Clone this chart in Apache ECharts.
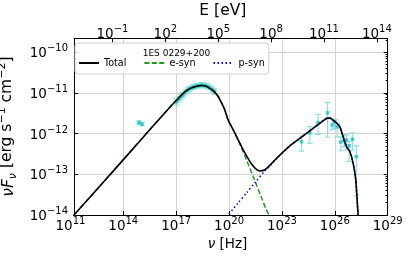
<!DOCTYPE html>
<html><head><meta charset="utf-8">
<script src="https://cdn.jsdelivr.net/npm/echarts@6/dist/echarts.min.js"></script>
<style>html,body{margin:0;padding:0;background:#fff}#c{width:411px;height:257px}</style>
</head><body><div id="c"></div>
<script>
// ---- data (log10 values) ----
const xTickExps = [11, 14, 17, 20, 23, 26, 29];      // nu [Hz] exponents
const eTickExps = [-1, 2, 5, 8, 11, 14];             // E [eV] exponents
const yTickExps = [-14, -13, -12, -11, -10];         // nuFnu exponents
const LOG_H_EV = -14.3835;                           // log10(h [eV s])

const totalLogNu   = [11.0, 11.2, 13.0, 15.0, 16.5, 16.93, 17.5, 17.8, 18.06, 18.44, 18.7, 18.91, 19.15, 19.38, 19.6, 19.76, 19.95, 20.25, 20.52, 20.8, 21.09, 21.3, 21.5, 21.75, 22.03, 22.31, 22.6, 22.88, 23.45, 24.01, 24.5, 24.77, 25.2, 25.59, 25.75, 25.9, 26.1, 26.28, 26.45, 26.66, 26.85, 27.04, 27.19, 27.23, 27.32, 27.36];
const totalLogFlux = [-14.1, -14.0, -13.13, -12.15, -11.42, -11.22, -10.97, -10.89, -10.85, -10.82, -10.84, -10.89, -10.97, -11.09, -11.27, -11.42, -11.67, -11.92, -12.16, -12.40, -12.62, -12.76, -12.86, -12.92, -12.89, -12.78, -12.65, -12.53, -12.30, -12.12, -11.96, -11.87, -11.73, -11.62, -11.62, -11.67, -11.74, -11.83, -12.05, -12.32, -12.44, -12.73, -13.14, -13.39, -14.0, -14.3];

const esynLogNu   = [11.0, 11.2, 13.0, 15.0, 16.5, 16.93, 17.5, 17.8, 18.06, 18.44, 18.7, 18.91, 19.15, 19.38, 19.6, 19.76, 19.95, 20.25, 20.52, 21.0, 21.4, 21.8, 22.1, 22.27, 22.35];
const esynLogFlux = [-14.1, -14.0, -13.13, -12.15, -11.42, -11.22, -10.97, -10.89, -10.85, -10.82, -10.84, -10.89, -10.97, -11.09, -11.27, -11.42, -11.67, -11.92, -12.16, -12.66, -13.09, -13.53, -13.86, -14.0, -14.1];

const psynLogNu   = [19.85, 20.5, 21.0, 21.5, 22.0, 22.31, 22.6, 22.88, 23.45, 24.01, 24.5, 24.77, 25.2, 25.59, 25.75, 25.9, 26.1, 26.28, 26.45, 26.66, 26.85, 27.04, 27.19, 27.23, 27.32, 27.36];
const psynLogFlux = [-14.05, -13.71, -13.45, -13.19, -12.93, -12.80, -12.66, -12.53, -12.30, -12.12, -11.96, -11.87, -11.73, -11.62, -11.62, -11.67, -11.74, -11.83, -12.05, -12.32, -12.44, -12.73, -13.14, -13.39, -14.0, -14.3];

const obsLogNu   = [14.89, 15.06, 17.0, 17.12, 17.25, 17.38, 17.5, 17.63, 17.76, 17.9, 18.03, 18.17, 18.3, 18.45, 18.6, 18.75, 18.9, 19.05, 19.18, 24.11, 24.58, 25.05, 25.59, 25.85, 26.0, 26.13, 26.34, 26.53, 26.66, 26.81, 27.0, 27.22];
const obsLogFlux = [-11.73, -11.77, -11.22, -11.16, -11.10, -11.05, -10.99, -10.94, -10.90, -10.87, -10.85, -10.83, -10.82, -10.81, -10.82, -10.84, -10.87, -10.92, -10.97, -12.20, -11.98, -11.73, -11.49, -11.79, -11.71, -11.83, -12.21, -12.17, -12.16, -12.30, -12.14, -12.57];
const obsLogLo   = [-11.77, -11.81, -11.30, -11.23, -11.17, -11.11, -11.05, -11.00, -10.96, -10.93, -10.91, -10.89, -10.88, -10.87, -10.88, -10.90, -10.93, -10.98, -11.04, -12.43, -12.24, -12.02, -12.09, -11.91, -11.87, -12.08, -12.42, -12.32, -12.40, -12.69, -12.40, -13.53];
const obsLogHi   = [-11.69, -11.73, -11.14, -11.09, -11.03, -10.99, -10.93, -10.88, -10.84, -10.81, -10.79, -10.77, -10.76, -10.75, -10.76, -10.78, -10.81, -10.86, -10.90, -12.06, -11.83, -11.53, -11.24, -11.65, -11.65, -11.75, -12.08, -12.03, -12.03, -12.20, -11.98, -12.30];

const legendTitle = '1ES 0229+200';
const seriesNames = ['Total', 'e-syn', 'p-syn'];

// ---- chart ----
const FONT = 'DejaVu Sans';
const Y_MIN = -14, Y_MAX = -9.66, X_MIN = 11.2, X_MAX = 29;
const zip = (a, b) => a.map((v, i) => [v, b[i]]);
const expStr = v => String(Math.round(v)).replace('-', '\u2212');
const powLabel = v => '{b|10}{s|' + expStr(v) + '}';
const richPow = {
  b: { fontSize: 13.5, fontFamily: FONT, color: '#000', lineHeight: 17, verticalAlign: 'bottom' },
  s: { fontSize: 10, fontFamily: FONT, color: '#000', lineHeight: 17, verticalAlign: 'top' }
};
const yMinor = [];
for (let d = -14; d <= -10; d++) for (let k = 2; k <= 9; k++) { const v = d + Math.log10(k); if (v < Y_MAX) yMinor.push(v); }
const spine = { show: true, onZero: false, lineStyle: { color: '#000', width: 1 } };
const noLine = { show: false, onZero: false };
const gridCol = '#d3d3d3';
const xGridColors = xTickExps.map((v, i) => (i === 0 || i === xTickExps.length - 1) ? 'rgba(0,0,0,0)' : gridCol);

const chart = echarts.init(document.getElementById('c'), null, { renderer: 'canvas' });
chart.setOption({
  animation: false,
  backgroundColor: '#fff',
  grid: [
    { left: 74, right: 23.3, top: 38.3, bottom: 42, containLabel: false, outerBoundsMode: 'none' },
    { left: 70.4, right: 23.3, top: 38.3, bottom: 42, containLabel: false, outerBoundsMode: 'none' }
  ],
  title: {
    text: legendTitle, left: 171.5, top: 44, textAlign: 'center', z: 10,
    textStyle: { fontFamily: FONT, fontSize: 9, fontWeight: 'normal', color: '#000' }
  },
  legend: {
    data: seriesNames, left: 75, top: 43, z: 5,
    padding: [15, 4, 6, 3], itemWidth: 20, itemHeight: 10, itemGap: 17,
    itemStyle: { opacity: 0 },
    backgroundColor: 'rgba(255,255,255,0.85)', borderColor: '#cccccc', borderWidth: 1, borderRadius: 3,
    textStyle: { fontFamily: FONT, fontSize: 9.6, color: '#000' }
  },
  xAxis: [
    { type: 'value', gridIndex: 0, position: 'bottom', min: X_MIN, max: X_MAX,
      axisLine: spine,
      axisTick: { show: true, inside: true, length: 4, customValues: [14, 17, 20, 23, 26], lineStyle: { color: '#000' } },
      axisLabel: { show: false },
      splitLine: { show: false } },
    { type: 'value', gridIndex: 0, position: 'top', min: X_MIN + LOG_H_EV, max: X_MAX + LOG_H_EV,
      axisLine: spine,
      axisTick: { show: true, inside: true, length: 4, customValues: eTickExps, lineStyle: { color: '#000' } },
      axisLabel: { show: true, customValues: eTickExps, margin: -3, formatter: powLabel, rich: richPow },
      splitLine: { show: false },
      name: 'E [eV]', nameLocation: 'middle', nameGap: -3,
      nameTextStyle: { fontFamily: FONT, fontSize: 15.5, color: '#000', padding: [0, 16, 0, 0] } },
    { type: 'value', gridIndex: 1, position: 'bottom', min: 11, max: 29, interval: 3,
      axisLine: noLine, axisTick: { show: false },
      splitLine: { show: true, lineStyle: { color: xGridColors, width: 1 } },
      axisLabel: { show: true, margin: 1, formatter: powLabel, rich: richPow },
      name: '{i|ν} [Hz]', nameLocation: 'middle', nameGap: 10,
      nameTextStyle: { fontFamily: FONT, fontSize: 13.5, color: '#000', padding: [0, 3, 0, 0],
        rich: { i: { fontFamily: FONT, fontSize: 13.5, fontStyle: 'italic', color: '#000' } } } }
  ],
  yAxis: [
    { type: 'value', gridIndex: 0, min: Y_MIN, max: Y_MAX, interval: 1,
      axisLine: spine,
      axisTick: { show: true, inside: true, length: 4, lineStyle: { color: '#000' } },
      axisLabel: { show: true, margin: 6, formatter: v => (v > -9.9 ? '' : powLabel(v)), rich: richPow },
      splitLine: { show: true, lineStyle: { color: gridCol, width: 1 } },
      name: '{i|νF}{sub|ν} [erg s{sup|−1} cm{sup|−2}]', nameLocation: 'middle', nameRotate: 90, nameGap: 18,
      nameTextStyle: { fontFamily: FONT, fontSize: 15.5, color: '#000',
        rich: {
          i: { fontFamily: FONT, fontSize: 15.5, fontStyle: 'italic', color: '#000', lineHeight: 20, verticalAlign: 'bottom' },
          sub: { fontFamily: FONT, fontSize: 11, fontStyle: 'italic', color: '#000', lineHeight: 20, verticalAlign: 'bottom', padding: [0, 0, -2, 0] },
          sup: { fontFamily: FONT, fontSize: 11, color: '#000', lineHeight: 20, verticalAlign: 'top' }
        } } },
    { type: 'value', gridIndex: 0, min: Y_MIN, max: Y_MAX,
      axisLine: noLine, axisLabel: { show: false }, splitLine: { show: false },
      axisTick: { show: true, inside: true, length: 2, customValues: yMinor, lineStyle: { color: '#000', width: 0.8 } } },
    { type: 'value', gridIndex: 0, position: 'right', min: Y_MIN, max: Y_MAX, interval: 1,
      axisLine: spine, axisLabel: { show: false }, splitLine: { show: false },
      axisTick: { show: true, inside: true, length: 4, lineStyle: { color: '#000' } } },
    { type: 'value', gridIndex: 0, position: 'right', min: Y_MIN, max: Y_MAX,
      axisLine: noLine, axisLabel: { show: false }, splitLine: { show: false },
      axisTick: { show: true, inside: true, length: 2, customValues: yMinor, lineStyle: { color: '#000', width: 0.8 } } },
    { type: 'value', gridIndex: 1, min: Y_MIN, max: Y_MAX, show: false, axisLine: noLine }
  ],
  series: [
    { name: 'Total', type: 'line', xAxisIndex: 0, yAxisIndex: 0, data: zip(totalLogNu, totalLogFlux),
      showSymbol: false, symbol: 'none', smooth: 0.25, z: 5, clip: true,
      lineStyle: { color: '#000', width: 1.6 }, itemStyle: { color: '#000' } },
    { name: 'e-syn', type: 'line', xAxisIndex: 0, yAxisIndex: 0, data: zip(esynLogNu, esynLogFlux),
      showSymbol: false, symbol: 'none', smooth: 0.25, z: 3, clip: true,
      lineStyle: { color: '#1f9a1f', width: 1.5, type: [5, 2.4] }, itemStyle: { color: '#1f9a1f' } },
    { name: 'p-syn', type: 'line', xAxisIndex: 0, yAxisIndex: 0, data: zip(psynLogNu, psynLogFlux),
      showSymbol: false, symbol: 'none', smooth: 0.25, z: 3, clip: true,
      lineStyle: { color: '#0000ff', width: 1.5, type: [1.5, 2.5] }, itemStyle: { color: '#0000ff' } },
    { name: 'errors', type: 'custom', xAxisIndex: 0, yAxisIndex: 0, z: 2, clip: true,
      data: obsLogNu.map((v, i) => [v, obsLogLo[i], obsLogHi[i]]),
      renderItem: (params, api) => {
        const p1 = api.coord([api.value(0), api.value(1)]);
        const p2 = api.coord([api.value(0), api.value(2)]);
        const st = { stroke: '#8fe0e0', lineWidth: 1.2 };
        const w = 2.8;
        return { type: 'group', children: [
          { type: 'line', shape: { x1: p1[0], y1: p1[1], x2: p2[0], y2: p2[1] }, style: st },
          { type: 'line', shape: { x1: p1[0] - w, y1: p1[1], x2: p1[0] + w, y2: p1[1] }, style: st },
          { type: 'line', shape: { x1: p2[0] - w, y1: p2[1], x2: p2[0] + w, y2: p2[1] }, style: st }
        ] };
      } },
    { name: 'data', type: 'scatter', xAxisIndex: 0, yAxisIndex: 0, z: 2,
      data: zip(obsLogNu, obsLogFlux), symbol: 'rect', symbolSize: 3.5,
      itemStyle: { color: '#14c0c4' } }
  ]
});
</script>
</body></html>
